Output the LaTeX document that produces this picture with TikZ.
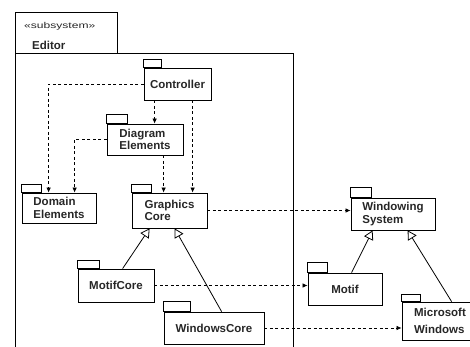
\documentclass[tikz,border=0pt]{standalone}
\usepackage{fontspec}
\setmainfont{Liberation Sans}
\usepackage{graphicx}
\usetikzlibrary{arrows.meta}
% small folder tab on top of a package box
\newcommand\pkgtab[3]{\draw[line width=0.8pt] (#1.north west) rectangle ++(#2,-#3);}
\begin{document}
\begin{tikzpicture}[x=1pt,y=-1pt,
  pkg/.style={draw, line width=0.8pt, inner sep=2pt, align=left,
    font=\bfseries\fontsize{11.5}{12.5}\selectfont, text=black!85},
  dep/.style={line width=0.7pt, dash pattern=on 3pt off 2.5pt,
    -{Latex[length=5pt,width=4.5pt]}},
  gen/.style={line width=0.8pt,
    -{Triangle[open,length=9pt,width=10pt,line width=0.8pt]}},
  lbl/.style={font=\bfseries\fontsize{11.5}{12.5}\selectfont, text=black!85,
    inner sep=0pt, anchor=west}]
\clip (0,0) rectangle (470,347);

% subsystem frame
\node[draw, line width=0.9pt, minimum width=102pt, minimum height=41pt,
  anchor=north west, inner sep=0pt] (edtab) at (15,12) {};
\draw[line width=0.9pt] (edtab.south west) rectangle (293,380);
\node[anchor=west, inner sep=0pt, text=black!85,
  font=\fontsize{8.5}{9}\selectfont] (stereo) at (24,26)
  {\scalebox{1.42}[1]{«subsystem»}};
\node[lbl] (edname) at (32,45) {Editor};

% packages
\node[pkg, minimum width=67pt, minimum height=32pt] (ctrl) at (177.5,84) {Controller};
\node[pkg, minimum width=76pt, minimum height=31pt] (diag) at (145,139.5) {Diagram\\Elements};
\node[pkg, minimum width=74pt, minimum height=30pt] (domain) at (59,208) {Domain\\Elements};
\node[pkg, minimum width=75pt, minimum height=35pt] (gcore) at (169.5,210.5) {Graphics\\Core};
\node[pkg, minimum width=84pt, minimum height=32pt] (wsys) at (393,214) {Windowing\\System};
\node[pkg, minimum width=76pt, minimum height=33pt] (motifcore) at (116,285.5) {MotifCore};
\node[pkg, minimum width=100pt, minimum height=32pt] (wincore) at (214,328) {WindowsCore};
\node[pkg, minimum width=74pt, minimum height=32pt] (motif) at (345,289) {Motif};
\node[pkg, minimum width=76pt, minimum height=38pt,
  font=\bfseries\fontsize{11.5}{17}\selectfont] (mswin) at (440,321) {Microsoft\\Windows};

\pkgtab{ctrl}{18}{8}
\pkgtab{diag}{21}{9}
\pkgtab{domain}{20}{8}
\pkgtab{gcore}{20}{8}
\pkgtab{wsys}{21}{10}
\pkgtab{motifcore}{22}{8}
\pkgtab{wincore}{27}{10}
\pkgtab{motif}{20}{10}
\pkgtab{mswin}{19}{7}

% attachment points
\coordinate (c1) at ([xshift=11pt]ctrl.south west);
\coordinate (c2) at ([xshift=49pt]ctrl.south west);
\coordinate (c3) at ([xshift=57pt]diag.south west);
\coordinate (d1) at ([xshift=27pt]domain.north west);
\coordinate (d2) at ([xshift=53pt]domain.north west);
\coordinate (g1) at ([xshift=45pt]motifcore.north west);
\coordinate (g1t) at ([xshift=18pt]gcore.south west);
\coordinate (g2) at ([xshift=58pt]wincore.north west);
\coordinate (g2t) at ([xshift=43pt]gcore.south west);
\coordinate (g3) at ([xshift=44pt]motif.north west);
\coordinate (g3t) at ([xshift=22pt]wsys.south west);
\coordinate (g4) at ([xshift=50pt]mswin.north west);
\coordinate (g4t) at ([xshift=57pt]wsys.south west);

% dependencies
\draw[dep] (ctrl.west) -| (d1);
\draw[dep] (c1) -- (c1 |- diag.north);
\draw[dep] (c2) -- (c2 |- gcore.north);
\draw[dep] (diag.west) -| (d2);
\draw[dep] (c3) -- (c3 |- gcore.north);
\draw[dep] (gcore.east) -- (gcore.east -| wsys.west);
\draw[dep] (motifcore.east) -- (motifcore.east -| motif.west);
\draw[dep] (wincore.east) -- (wincore.east -| mswin.west);

% generalizations
\draw[gen] (g1) -- (g1t);
\draw[gen] (g2) -- (g2t);
\draw[gen] (g3) -- (g3t);
\draw[gen] (g4) -- (g4t);
\end{tikzpicture}
\end{document}
